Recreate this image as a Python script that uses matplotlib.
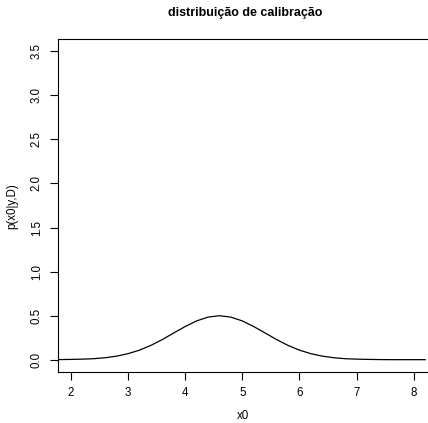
import matplotlib
matplotlib.use("Agg")
import matplotlib.pyplot as plt

# posterior density of x0 read along the grid
x0 = [1.8, 2.0, 2.2, 2.4, 2.6, 2.8, 3.0, 3.2, 3.4, 3.6, 3.8, 4.0, 4.2, 4.4,
      4.6, 4.8, 5.0, 5.2, 5.4, 5.6, 5.8, 6.0, 6.2, 6.4, 6.6, 6.8, 7.0, 7.2,
      7.4, 7.6, 7.8, 8.0, 8.2]
dens = [0.001, 0.003, 0.006, 0.011, 0.022, 0.040, 0.068, 0.108, 0.162, 0.228,
        0.303, 0.376, 0.440, 0.483, 0.499, 0.483, 0.440, 0.376, 0.303, 0.228,
        0.162, 0.108, 0.068, 0.040, 0.022, 0.011, 0.006, 0.003, 0.001, 0.0,
        0.0, 0.0, 0.0]
xticks = [2, 3, 4, 5, 6, 7, 8]
yticks = [0.0, 0.5, 1.0, 1.5, 2.0, 2.5, 3.0, 3.5]

plt.rcParams["font.family"] = ["Liberation Sans", "DejaVu Sans"]

fig = plt.figure(figsize=(4.28, 4.23), dpi=100)
ax = fig.add_axes([58 / 428, 51 / 423, 1 - 58 / 428, 333 / 423])

ax.plot(x0, dens, color="black", lw=0.9)

ax.set_xlim(1.775, 8.25)
ax.set_ylim(-0.14, 3.64)
ax.set_xticks(xticks)
ax.set_xticklabels([str(v) for v in xticks])
ax.set_yticks(yticks)
ax.set_yticklabels([f"{v:.1f}" for v in yticks], rotation=90, va="center")
ax.tick_params(direction="out", length=6, width=0.8, labelsize=8.3, pad=5)
ax.spines["right"].set_visible(False)
for s in ["left", "top", "bottom"]:
    ax.spines[s].set_linewidth(0.8)

fig.text(243 / 428, 1 - 416 / 423, "x0", ha="center", va="center", fontsize=8.3)
fig.text(12 / 428, 1 - 206 / 423, "p(x0|y,D)", ha="center", va="center",
         rotation=90, fontsize=8.3)
fig.text(245 / 428, 1 - 13 / 423, "distribuição de calibração",
         ha="center", va="center", fontsize=9.0, fontweight="bold")

fig.savefig("out.png", dpi=100)
